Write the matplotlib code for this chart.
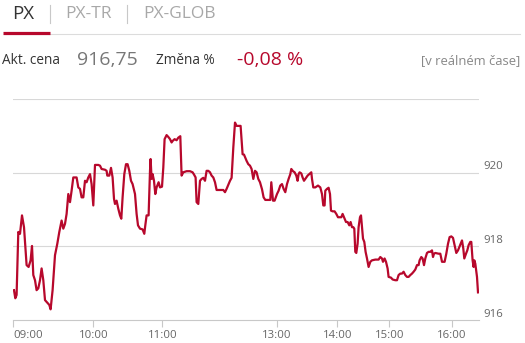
import matplotlib
matplotlib.use("Agg")
import matplotlib.pyplot as plt

# ---- data (ordinal time position, index value) ----
t = [0.7, 2.0, 3.3, 5.0, 6.7, 8.7, 10.7, 13.3, 15.3, 17.3, 18.7, 20.0, 21.7, 23.3, 25.0, 26.7,
     28.3, 30.0, 31.7, 34.0, 36.0, 37.3, 39.3, 41.7, 44.0, 46.0, 48.3, 50.0, 51.7, 53.3, 55.0,
     56.7, 58.3, 60.0, 63.3, 65.0, 66.7, 68.3, 70.0, 71.7, 73.3, 75.0, 76.7, 78.3, 80.0, 81.7,
     85.0, 86.7, 88.3, 91.7, 93.3, 94.0, 96.0, 97.7, 99.3, 100.7, 101.7, 103.3, 105.0, 106.7,
     108.0, 109.3, 111.0, 112.7, 114.3, 116.0, 117.7, 119.3, 121.7, 123.3, 124.7, 126.7, 129.3,
     131.0, 132.0, 133.3, 135.3, 136.7, 137.3, 138.3, 139.3, 140.7, 142.0, 143.3, 145.3, 146.7,
     148.7, 150.0, 151.3, 153.3, 155.0, 156.7, 158.3, 159.3, 161.3, 163.3, 165.0, 167.0, 168.3,
     170.0, 173.3, 176.7, 179.3, 180.7, 182.3, 183.3, 185.0, 186.7, 188.3, 190.0, 191.7, 193.3,
     195.0, 196.7, 198.3, 200.0, 201.7, 203.3, 206.7, 210.0, 211.7, 213.3, 215.3, 216.7, 218.3,
     220.0, 221.7, 223.3, 226.0, 227.3, 229.3, 230.7, 233.3, 235.0, 236.7, 238.3, 240.0, 241.7,
     243.3, 245.0, 246.7,
     248.7, 250.3, 252.0, 255.3, 257.0, 258.0, 259.7, 261.3, 263.7, 265.3, 267.0, 268.7, 270.3,
     272.0, 273.7, 275.3, 277.0, 278.0, 279.7, 281.3, 283.0, 284.3, 285.3, 286.3, 288.0, 289.3,
     290.7, 292.0, 294.3, 296.0, 298.0, 298.7, 300.0, 302.0, 304.7, 307.0, 308.7, 310.0, 311.3,
     312.0, 313.7, 315.3, 316.7, 317.7, 319.3, 321.3, 323.0, 324.7, 326.3, 328.0, 329.3, 331.0,
     332.7, 334.3, 336.0, 337.3, 338.7, 340.0, 341.0, 342.0, 343.0, 344.3, 345.3, 346.7, 347.7,
     348.7, 349.7, 351.0, 352.3, 353.7, 355.3, 357.0, 358.7, 362.0, 365.3, 367.0, 368.7, 369.7,
     371.3, 372.7, 374.3, 375.3, 377.7, 379.3, 382.0, 383.7, 385.3, 387.0, 388.7, 390.3, 392.0,
     393.7, 395.3, 397.0, 398.7, 400.3, 402.0, 403.7, 405.3, 406.3, 408.0, 409.3, 410.7, 412.0,
     413.7, 415.3, 417.0, 418.7, 419.7, 420.7, 422.0, 425.3, 427.0, 428.7, 431.3, 433.0, 434.7,
     436.3, 438.0, 439.7, 441.0, 443.0, 444.7, 446.0, 447.3, 448.7, 450.0, 451.0, 452.7, 454.0,
     455.3, 457.0, 458.0, 459.3, 460.3, 461.0, 462.0, 463.7, 464.7]

px = [916.81, 916.59, 916.68, 918.39, 918.34, 918.84, 918.52, 917.49, 917.44, 917.62, 918.01,
      917.22, 917.08, 916.81, 916.86, 917.08, 917.40, 917.08, 916.54, 916.47, 916.41, 916.29,
      916.81, 917.76, 918.07, 918.39, 918.70, 918.48, 918.61, 918.88, 919.42, 919.20, 919.51,
      919.87, 919.87, 919.60, 919.56, 919.33, 919.33, 919.78, 919.74, 919.87, 919.96, 919.69,
      919.11, 920.21, 920.21, 920.19, 920.10, 920.08, 920.05, 919.92, 919.92, 920.13, 919.87,
      919.29, 919.15, 919.24, 919.02, 918.84, 918.75, 919.33, 919.96, 920.23, 920.23, 920.05,
      919.78, 919.69, 919.42, 918.88, 918.57, 918.48, 918.46, 918.34, 918.57, 918.84, 918.84,
      920.05, 920.37, 919.83, 919.96, 919.78, 919.42, 919.60, 919.74, 919.60, 919.62, 920.14,
      920.91, 921.02, 920.97, 920.91, 920.82, 920.86, 920.91, 920.88, 920.95, 920.99, 919.92,
      920.01, 920.04, 920.04, 920.01, 919.95, 919.87, 919.20, 919.15, 919.78, 919.83, 919.86,
      919.78, 920.05, 920.05, 920.01, 919.92, 919.87, 919.74, 919.53, 919.53, 919.53, 919.47,
      919.56, 919.69, 919.78, 919.86, 920.68, 921.36, 921.27, 921.27, 921.27, 920.50, 920.49,
      920.32, 920.23, 920.19, 920.10, 919.83, 920.05, 920.01, 919.83, 919.74,
      919.55, 919.33, 919.26, 919.26, 919.26, 919.74, 919.24, 919.24, 919.42, 919.51, 919.65,
      919.69, 919.56, 919.47, 919.69, 919.83, 919.96, 920.10, 920.04, 920.01, 919.92, 919.78,
      919.96, 920.01, 919.98, 919.87, 919.78, 919.83, 919.92, 919.96, 920.01, 919.83, 919.60,
      919.60, 919.65, 919.60, 919.42, 919.11, 919.11, 919.51, 919.56, 919.59, 919.42, 918.97,
      918.95, 918.95, 918.88, 918.79, 918.79, 918.79, 918.88, 918.77, 918.66, 918.66, 918.57,
      918.66, 918.52, 918.52, 918.48, 917.85, 917.82, 918.07, 918.52, 918.79, 918.84, 918.52,
      918.21, 918.12, 917.85, 917.67, 917.44, 917.58, 917.62, 917.64, 917.64, 917.71, 917.67,
      917.58, 917.67, 917.58, 917.40, 917.17, 917.15, 917.10, 917.08, 917.08, 917.22, 917.26,
      917.26, 917.31, 917.22, 917.17, 917.17, 917.22, 917.26, 917.31, 917.37, 917.49, 917.49,
      917.62, 917.71, 917.67, 917.49, 917.67, 917.82, 917.85, 917.85, 917.89, 917.71, 917.80,
      917.82, 917.80, 917.80, 917.58, 917.58, 917.80, 918.07, 918.25, 918.27, 918.23, 918.07,
      917.82, 917.89, 917.98, 918.07, 918.16, 917.94, 917.67, 917.80, 917.89, 918.03, 918.12,
      918.12, 917.62, 917.44, 917.62, 917.53, 917.17, 916.75]

tick_pos = [0.0, 80.0, 149.0, 263.7, 324.0, 376.0, 438.7]
tick_labels = ["09:00", "10:00", "11:00", "13:00", "14:00", "15:00", "16:00"]
y_grid = [918, 920, 922]
y_labels = [916, 918, 920]

tabs = ["PX", "PX-TR", "PX-GLOB"]
price_label, price_value = "Akt. cena", "916,75"
change_label, change_value = "Změna %", "-0,08 %"
realtime = "[v reálném čase]"

# ---- figure ----
W, H = 525, 343
plt.rcParams['font.family'] = ['Open Sans', 'DejaVu Sans']
fig = plt.figure(figsize=(W / 100, H / 100), dpi=100)
fig.patch.set_facecolor('white')

def fx(x):
    return x / W

def fy(y):
    return 1 - y / H

RED = "#b7082c"

# header tabs
fig.text(fx(12), fy(14), tabs[0], fontsize=13.5, color="#333333", va='center', ha='left')
fig.text(fx(65), fy(14), tabs[1], fontsize=12.5, color="#a8a8a8", va='center', ha='left')
fig.text(fx(143), fy(14), tabs[2], fontsize=12.5, color="#a8a8a8", va='center', ha='left')
for sx in (49.5, 127):
    fig.add_artist(plt.Line2D([fx(sx), fx(sx)], [fy(5), fy(23)], color="#c8c8c8", lw=0.8))
fig.add_artist(plt.Line2D([fx(50), fx(520)], [fy(34), fy(34)], color="#dcdcdc", lw=0.8))
fig.add_artist(plt.Line2D([fx(3), fx(50)], [fy(32.5), fy(32.5)], color=RED, lw=2.3,
                          solid_capstyle='butt'))

# info row
fig.text(fx(2), fy(61), price_label, fontsize=9.8, color="#333333", va='center', ha='left')
fig.text(fx(77), fy(60), price_value, fontsize=14, color="#777777", va='center', ha='left')
fig.text(fx(156), fy(61), change_label, fontsize=9.8, color="#333333", va='center', ha='left')
fig.text(fx(237), fy(60), change_value, fontsize=14, color=RED, va='center', ha='left')
fig.text(fx(520), fy(61), realtime, fontsize=9.4, color="#888888", va='center', ha='right')

# chart
ax = fig.add_axes([fx(13.3), fy(320), fx(479) - fx(13.3), fy(99) - fy(320)])
ax.set_xlim(0, 465.7)
ax.set_ylim(916, 922)
for g in y_grid:
    ax.axhline(g, color="#d8d8d8", lw=0.8, zorder=1)
ax.plot(t, px, color=RED, lw=1.6, zorder=3, solid_joinstyle='round')

for s in ('top', 'left', 'right'):
    ax.spines[s].set_visible(False)
ax.spines['bottom'].set_color("#c8c8c8")
ax.spines['bottom'].set_linewidth(0.8)
ax.set_yticks([])
ax.set_xticks(tick_pos, tick_labels)
ax.tick_params(axis='x', length=5, width=0.8, color="#c8c8c8", labelsize=8.2,
               labelcolor="#666666", pad=2)
ax.get_xticklabels()[0].set_ha('left')

for v in y_labels:
    ax.annotate(str(v), xy=(1, v), xycoords=('axes fraction', 'data'),
                xytext=(3, 4.3), textcoords='offset points', va='center', ha='left',
                fontsize=8.2, color="#666666", annotation_clip=False)

fig.savefig("out.png", dpi=100, facecolor='white')
